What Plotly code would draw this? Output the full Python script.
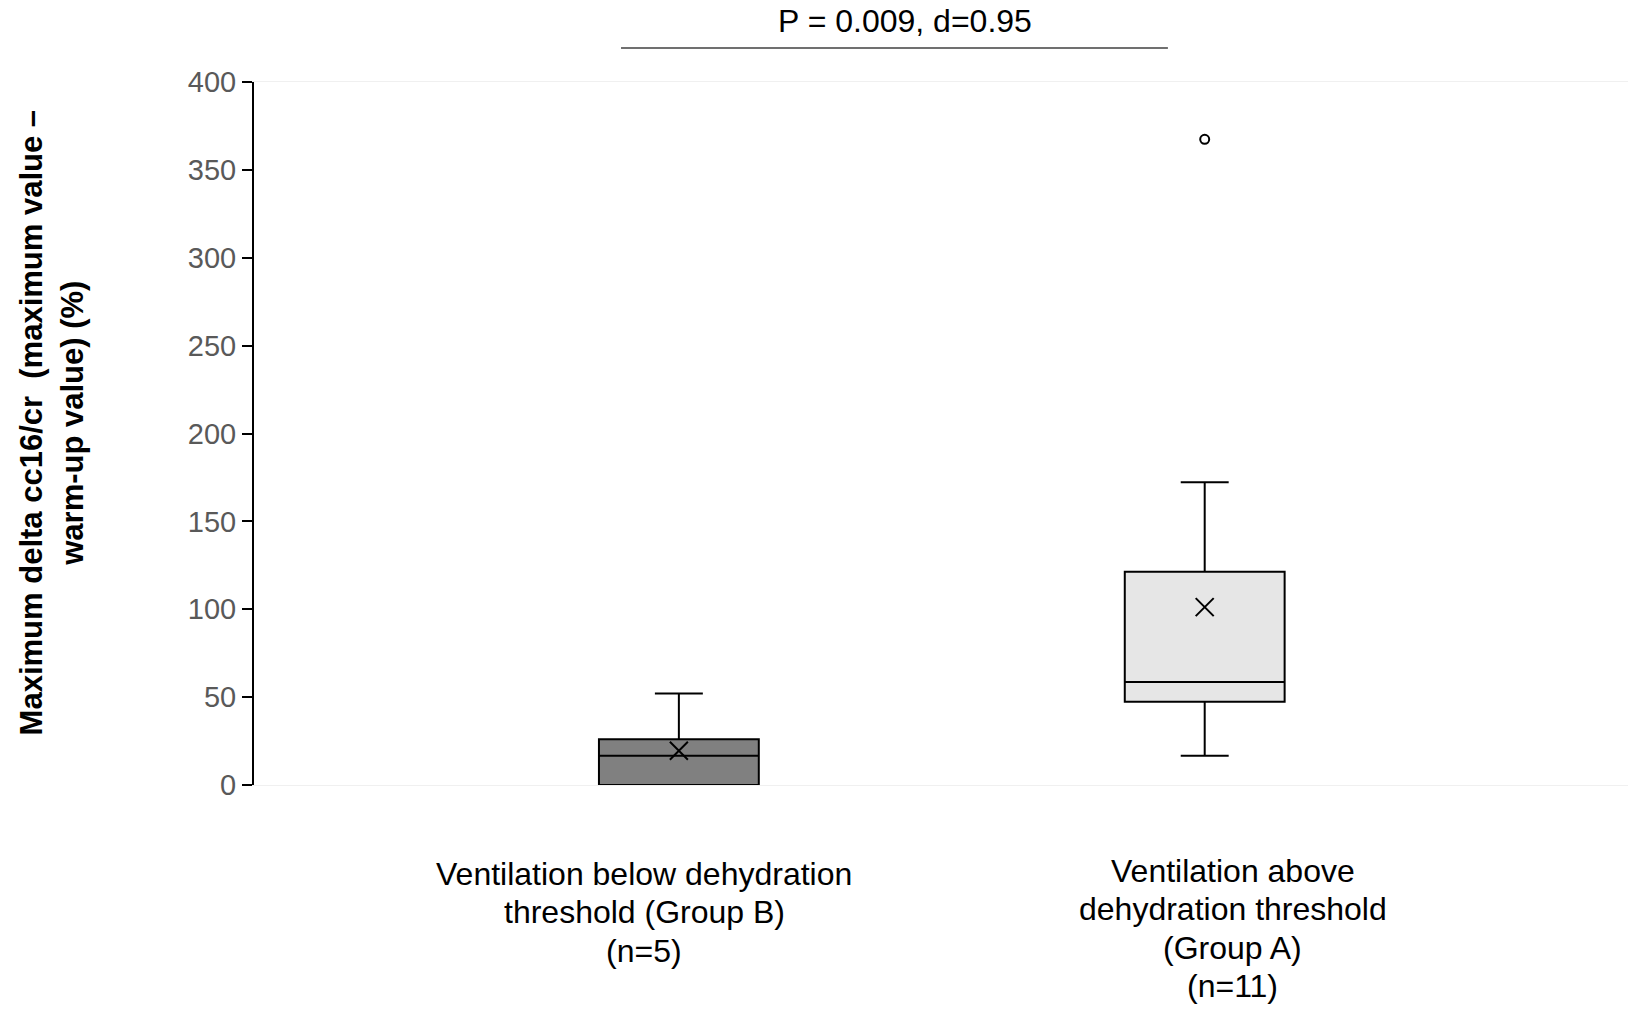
import plotly.graph_objects as go

# ---- data ----
groups = ["Group B", "Group A"]
x_pos = [0, 1]
q1 = [0.0, 47.3]
median = [16.6, 58.6]
q3 = [26.0, 121.3]
lowerfence = [0.0, 16.6]
upperfence = [52.1, 172.2]
means = [19.5, 101.2]
outlier_x = [1]
outlier_y = [367.4]
fills = ["#808080", "#e6e6e6"]

label_lines = [
    ["Ventilation below dehydration", "threshold (Group B)", "(n=5)"],
    ["Ventilation above", "dehydration threshold", "(Group A)", "(n=11)"],
]
y_ticks = [0, 50, 100, 150, 200, 250, 300, 350, 400]
p_text = "P = 0.009, d=0.95"
y_title = "Maximum delta cc16/cr  (maximum value –<br>warm-up value) (%)"

FONT = "Liberation Sans, Arial, sans-serif"

fig = go.Figure()
for i in range(2):
    fig.add_trace(go.Box(
        x=[x_pos[i]], q1=[q1[i]], median=[median[i]], q3=[q3[i]],
        lowerfence=[lowerfence[i]], upperfence=[upperfence[i]],
        width=0.304, whiskerwidth=0.3,
        fillcolor=fills[i], line=dict(color="black", width=2),
        boxpoints=False, showlegend=False, name=groups[i],
    ))

fig.add_trace(go.Scatter(
    x=x_pos, y=means, mode="markers", showlegend=False,
    marker=dict(symbol="x-thin", size=18, line=dict(color="black", width=2)),
))
fig.add_trace(go.Scatter(
    x=outlier_x, y=outlier_y, mode="markers", showlegend=False,
    marker=dict(symbol="circle-open", size=9, color="black", line=dict(width=2)),
))

# x-axis labels, one annotation per line
label_x = [-0.066, 1.053]
label_y = [
    [-0.1266, -0.1807, -0.2361],
    [-0.1223, -0.1764, -0.2319, -0.2859],
]
for gi in range(2):
    for li, line in enumerate(label_lines[gi]):
        fig.add_annotation(
            x=label_x[gi], xref="x", y=label_y[gi][li], yref="paper",
            text=line, showarrow=False, xanchor="center", yanchor="middle",
            font=dict(family=FONT, size=32, color="black"),
        )

# significance label and line
fig.add_annotation(
    x=0.43, xref="x", y=1.0868, yref="paper", text=p_text, showarrow=False,
    xanchor="center", yanchor="middle",
    font=dict(family=FONT, size=32, color="black"),
)
fig.add_shape(type="line", xref="x", yref="paper", x0=-0.110, x1=0.930,
              y0=1.0484, y1=1.0484, line=dict(color="#404040", width=1.5))

# y title
fig.add_annotation(
    x=-0.1467, xref="paper", y=0.515, yref="paper", text=y_title,
    textangle=-90, showarrow=False, xanchor="center", yanchor="middle",
    font=dict(family=FONT, size=31, color="black", weight="bold"),
)

fig.update_layout(
    width=1631, height=1011,
    margin=dict(l=254, r=3, t=82, b=226),
    paper_bgcolor="white", plot_bgcolor="white",
    font=dict(family=FONT),
    xaxis=dict(range=[-0.808, 1.805], showticklabels=False, showgrid=False,
               zeroline=False, showline=True, mirror=True, linecolor="#f0f0f0",
               linewidth=1, ticks=""),
    yaxis=dict(range=[0, 400], tickvals=y_ticks, showgrid=False, zeroline=False,
               showline=True, linecolor="black", linewidth=2,
               ticks="outside", ticklen=10, tickwidth=2, tickcolor="black",
               tickfont=dict(family=FONT, size=29, color="#595959")),
)

fig.write_html("out.html")
